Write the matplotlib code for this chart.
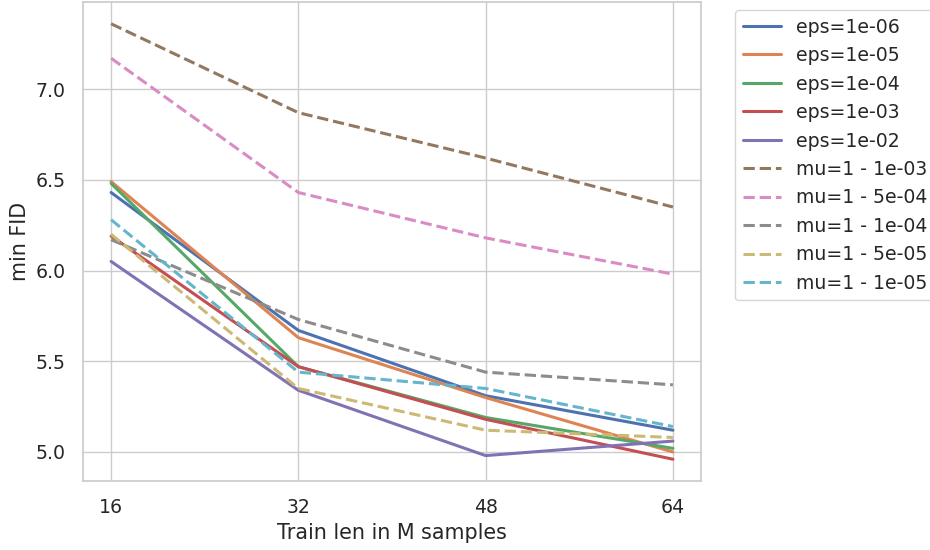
import matplotlib
matplotlib.use("Agg")
import matplotlib.pyplot as plt
import seaborn as sns

sns.set_theme(style="whitegrid", font_scale=1.24)
plt.rcParams['font.family'] = ['DejaVu Sans']
plt.rcParams['xtick.major.pad'] = 6.5
plt.rcParams['ytick.major.pad'] = 6.5

train_len = [16, 32, 48, 64]

eps_labels = ["eps=1e-06", "eps=1e-05", "eps=1e-04", "eps=1e-03", "eps=1e-02"]
eps_values = [
    [6.43, 5.67, 5.31, 5.12],
    [6.49, 5.63, 5.30, 5.00],
    [6.48, 5.47, 5.19, 5.02],
    [6.19, 5.47, 5.18, 4.96],
    [6.05, 5.34, 4.98, 5.06],
]

mu_labels = ["mu=1 - 1e-03", "mu=1 - 5e-04", "mu=1 - 1e-04", "mu=1 - 5e-05", "mu=1 - 1e-05"]
mu_values = [
    [7.36, 6.87, 6.62, 6.35],
    [7.17, 6.43, 6.18, 5.98],
    [6.17, 5.73, 5.44, 5.37],
    [6.20, 5.35, 5.12, 5.08],
    [6.28, 5.44, 5.35, 5.14],
]

pal = sns.color_palette("deep", 10)

fig, ax = plt.subplots(figsize=(9.3, 5.5), dpi=100)
fig.subplots_adjust(left=83/930, right=701/930, top=1-2/550, bottom=1-481/550)

for i, (lab, vals) in enumerate(zip(eps_labels, eps_values)):
    ax.plot(train_len, vals, color=pal[i], label=lab, linewidth=2.2)
for i, (lab, vals) in enumerate(zip(mu_labels, mu_values)):
    ax.plot(train_len, vals, color=pal[5 + i], label=lab, linewidth=2.2, linestyle="--")

ax.set_xticks(train_len)
ax.set_xlabel("Train len in M samples")
ax.set_ylabel("min FID")
ax.legend(loc="upper left", bbox_to_anchor=(1.04, 1.003))

fig.savefig("out.png", dpi=100)
